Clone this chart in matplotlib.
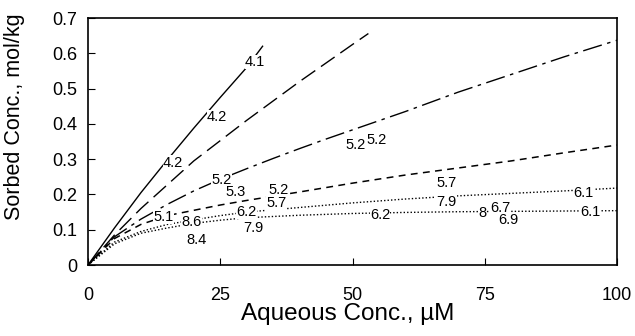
import matplotlib.pyplot as plt

plt.rcParams["font.family"] = ["Liberation Sans", "DejaVu Sans"]

# isotherm curves (aqueous uM -> sorbed mol/kg)
x_solid = [0, 5, 10, 15, 20, 25, 30, 33]
y_solid = [0, 0.105, 0.205, 0.298, 0.388, 0.475, 0.56, 0.62]

x_long = [0, 5, 10, 20, 30, 40, 50, 53]
y_long = [0, 0.085, 0.16, 0.295, 0.41, 0.52, 0.625, 0.656]

x_dashdot = [0, 5, 10, 15, 20, 25, 30, 35, 40, 45, 50, 60, 70, 80, 90, 100]
y_dashdot = [0, 0.08, 0.13, 0.172, 0.21, 0.243, 0.273, 0.302, 0.33, 0.357,
             0.383, 0.435, 0.49, 0.54, 0.59, 0.637]

x_dash = [0, 5, 10, 15, 20, 25, 30, 40, 50, 60, 70, 80, 90, 100]
y_dash = [0, 0.075, 0.115, 0.14, 0.155, 0.17, 0.183, 0.207, 0.232, 0.255,
          0.275, 0.295, 0.318, 0.34]

x_dot1 = [0, 5, 10, 15, 20, 25, 30, 40, 50, 60, 70, 80, 90, 100]
y_dot1 = [0, 0.065, 0.095, 0.115, 0.128, 0.14, 0.15, 0.163, 0.176, 0.187,
          0.196, 0.203, 0.21, 0.218]

x_dot2 = [0, 5, 10, 15, 20, 25, 30, 40, 50, 60, 70, 80, 90, 100]
y_dot2 = [0, 0.06, 0.09, 0.105, 0.118, 0.127, 0.134, 0.141, 0.146, 0.149,
          0.151, 0.152, 0.153, 0.154]

# pH labels written next to the curves
lab_text = ["4.1", "4.2", "4.2", "5.2", "5.3", "5.2", "5.7", "5.1", "8.6",
            "6.2", "7.9", "8.4", "5.2", "5.2", "5.7", "7.9", "6.2", "8",
            "6.7", "6.9", "6.1", "6.1"]
lab_x = [31.6, 24.4, 16.1, 25.3, 27.8, 36.0, 35.7, 14.2, 19.6,
         30.0, 31.3, 20.5, 50.5, 54.6, 67.8, 67.8, 55.2, 74.5,
         77.9, 79.4, 93.6, 94.9]
lab_y = [0.575, 0.42, 0.29, 0.24, 0.207, 0.212, 0.175, 0.136, 0.122,
         0.15, 0.105, 0.071, 0.34, 0.354, 0.232, 0.179, 0.142, 0.147,
         0.161, 0.127, 0.204, 0.15]

fig = plt.figure(figsize=(6.35, 3.36), dpi=100)
ax = fig.add_axes([0.1386, 0.2113, 0.8331, 0.7351])

ax.plot(x_solid, y_solid, color="black", lw=1.0, linestyle="-")
ax.plot(x_long, y_long, color="black", lw=1.0, linestyle=(0, (12, 5)))
ax.plot(x_dashdot, y_dashdot, color="black", lw=1.0, linestyle=(0, (14, 4, 2.5, 4)))
ax.plot(x_dash, y_dash, color="black", lw=1.1, linestyle=(0, (4.5, 3.5)))
ax.plot(x_dot1, y_dot1, color="black", lw=1.0, linestyle=(0, (1, 1.5)))
ax.plot(x_dot2, y_dot2, color="black", lw=1.0, linestyle=(0, (1, 1.5)))

for t, lx, ly in zip(lab_text, lab_x, lab_y):
    ax.text(lx, ly, t, fontsize=10.5, ha="center", va="center",
            bbox=dict(facecolor="white", edgecolor="none", pad=0.2))

ax.set_xlim(0, 100)
ax.set_ylim(0, 0.7)
ax.set_xticks([0, 25, 50, 75, 100])
ax.set_yticks([0, 0.1, 0.2, 0.3, 0.4, 0.5, 0.6, 0.7])
ax.set_yticklabels(["0", "0.1", "0.2", "0.3", "0.4", "0.5", "0.6", "0.7"])
ax.tick_params(direction="in", length=5, labelsize=13, pad=8, top=False, right=False)
ax.tick_params(axis="x", pad=16)

ax.set_xlabel("Aqueous Conc., µM", fontsize=17.5)
ax.set_ylabel("Sorbed Conc., mol/kg", fontsize=15.5)
ax.xaxis.set_label_coords(0.49, -0.155)
ax.yaxis.set_label_coords(-0.12, 0.6)

for s in ax.spines.values():
    s.set_linewidth(1.2)

fig.savefig("out.png", dpi=100)
